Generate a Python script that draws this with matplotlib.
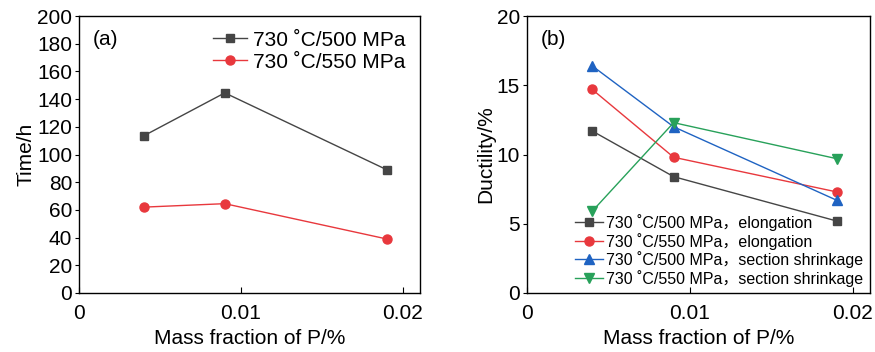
import numpy as np
import matplotlib.pyplot as plt

plt.rcParams['font.family'] = ['Liberation Sans', 'Noto Sans CJK SC', 'DejaVu Sans']

p_frac = [0.004, 0.009, 0.019]

# (a) rupture time, h
time_500 = [113.5, 144.5, 89]
time_550 = [62, 64.5, 39]

# (b) ductility, %
elong_500 = [11.7, 8.4, 5.2]
elong_550 = [14.7, 9.8, 7.3]
shrink_500 = [16.4, 12.0, 6.7]
shrink_550 = [5.9, 12.3, 9.7]

c_black = '#454545'
c_red = '#e8383d'
c_blue = '#1f63c2'
c_green = '#28a15a'

fig = plt.figure(figsize=(8.75, 3.52), dpi=100)
ax1 = fig.add_axes([79 / 875, 1 - 293 / 352, 341 / 875, 277 / 352])
ax2 = fig.add_axes([527 / 875, 1 - 293 / 352, 343 / 875, 277 / 352])

fs = 15
deg = '\u02da'

ax1.plot(p_frac, time_500, '-s', color=c_black, lw=1, ms=6, label=f'730 {deg}C/500 MPa')
ax1.plot(p_frac, time_550, '-o', color=c_red, lw=1, ms=6.5, label=f'730 {deg}C/550 MPa')
ax1.set_ylim(0, 200)
ax1.set_yticks(np.arange(0, 201, 20))
ax1.set_ylabel('Time/h', fontsize=fs, labelpad=1)
ax1.text(0.04, 0.95, '(a)', transform=ax1.transAxes, fontsize=fs, va='top')
ax1.legend(loc='upper right', fontsize=fs, frameon=False, handlelength=1.6,
           handletextpad=0.3, borderaxespad=0.3, labelspacing=0.15)

ax2.plot(p_frac, elong_500, '-s', color=c_black, lw=1, ms=6, label=f'730 {deg}C/500 MPa，elongation')
ax2.plot(p_frac, elong_550, '-o', color=c_red, lw=1, ms=6.5, label=f'730 {deg}C/550 MPa，elongation')
ax2.plot(p_frac, shrink_500, '-^', color=c_blue, lw=1, ms=7, label=f'730 {deg}C/500 MPa，section shrinkage')
ax2.plot(p_frac, shrink_550, '-v', color=c_green, lw=1, ms=7, label=f'730 {deg}C/550 MPa，section shrinkage')
ax2.set_ylim(0, 20)
ax2.set_yticks([0, 5, 10, 15, 20])
ax2.set_ylabel('Ductility/%', fontsize=fs, labelpad=1)
ax2.text(0.04, 0.95, '(b)', transform=ax2.transAxes, fontsize=fs, va='top')
ax2.legend(loc='lower right', fontsize=11.5, frameon=False, handlelength=1.8,
           handletextpad=0.2, borderaxespad=0.0, labelspacing=0.1)

for ax in (ax1, ax2):
    ax.set_xlim(0, 0.02105)
    ax.set_xticks([0, 0.01, 0.02])
    ax.set_xticklabels(['0', '0.01', '0.02'])
    ax.set_xlabel('Mass fraction of P/%', fontsize=fs, labelpad=4)
    ax.tick_params(axis='x', direction='in', length=4, labelsize=fs, pad=8)
    ax.tick_params(axis='y', direction='out', length=3, labelsize=fs, pad=2)
    for s in ax.spines.values():
        s.set_linewidth(1.0)

fig.savefig('out.png', dpi=100)
